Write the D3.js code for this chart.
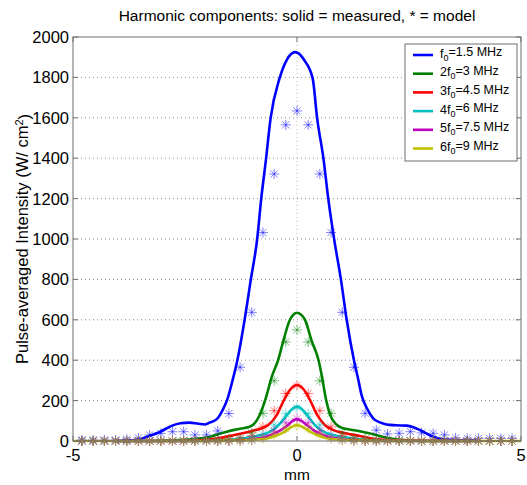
<!DOCTYPE html>
<html lang="en">
<head>
<meta charset="UTF-8">
<script src="https://d3js.org/d3.v7.min.js"></script>
<style>
  body { margin: 0; background: #fff; }
  text { font-family: "Liberation Sans", Arial, sans-serif; fill: #000; }
</style>
</head>
<body>
<svg id="chart" width="527" height="485"></svg>
<script>
// ---- data ----
const harmonics = ["f0=1.5 MHz", "2f0=3 MHz", "3f0=4.5 MHz", "4f0=6 MHz", "5f0=7.5 MHz", "6f0=9 MHz"];
const legendPre = ["", "2", "3", "4", "5", "6"];
const legendPost = ["=1.5 MHz", "=3 MHz", "=4.5 MHz", "=6 MHz", "=7.5 MHz", "=9 MHz"];
const colors = ["#0000ff", "#008000", "#ff0000", "#00bfbf", "#bf00bf", "#bfbf00"];

const yTicks = [0, 200, 400, 600, 800, 1000, 1200, 1400, 1600, 1800, 2000];
const xTicks = [-5, 0, 5];

// measured (solid) curves
const measX1 = [-3.85, -3.6, -3.3, -3.05, -2.8, -2.6, -2.4, -2.2, -2.05, -1.94, -1.79, -1.64, -1.55, -1.45, -1.33, -1.17, -1.03, -0.89, -0.8, -0.69, -0.59, -0.39, -0.23, -0.04, 0.16, 0.35, 0.45, 0.59, 0.7, 0.83, 0.98, 1.11, 1.27, 1.37, 1.44, 1.56, 1.7, 1.85, 2.0, 2.2, 2.45, 2.6, 2.75, 3.04, 3.27, 3.5, 4.0];
const measY1 = [0, 5, 25, 46, 75, 88, 91, 85, 82, 92, 108, 162, 210, 290, 401, 599, 800, 998, 1196, 1399, 1597, 1795, 1886, 1925, 1886, 1795, 1597, 1399, 1196, 998, 800, 599, 401, 302, 228, 162, 112, 92, 82, 78, 76, 68, 54, 21, 8, 5, 3];
const measX2 = [-4.0, -3.5, -2.8, -2.3, -1.94, -1.75, -1.57, -1.4, -1.2, -1.1, -0.98, -0.84, -0.7, -0.56, -0.42, -0.3, -0.16, 0.0, 0.18, 0.32, 0.48, 0.55, 0.65, 0.74, 0.89, 1.03, 1.2, 1.4, 1.7, 2.0, 2.3, 3.0, 4.0];
const measY2 = [0, 0, 3, 10, 21, 35, 46, 55, 63, 68, 80, 125, 210, 320, 401, 500, 599, 635, 599, 500, 401, 327, 203, 129, 79, 63, 56, 48, 33, 16, 6, 0, 0];
const measX3 = [-4.0, -2.6, -2.2, -1.8, -1.4, -1.0, -0.8, -0.64, -0.45, -0.29, -0.15, 0.0, 0.15, 0.29, 0.45, 0.62, 0.81, 1.0, 1.4, 1.8, 2.2, 4.0];
const measY3 = [0, 0, 3, 12, 30, 50, 62, 79, 129, 203, 255, 277, 255, 203, 129, 79, 54, 42, 25, 8, 2, 0];
const measX4 = [-4.0, -2.0, -1.5, -1.0, -0.6, -0.41, -0.22, -0.1, 0.0, 0.1, 0.22, 0.4, 0.59, 1.0, 1.5, 2.0, 4.0];
const measY4 = [0, 0, 5, 21, 46, 79, 129, 160, 170, 160, 129, 79, 46, 21, 5, 0, 0];
const measX5 = [-4.0, -1.8, -1.2, -0.7, -0.42, -0.2, -0.1, 0.0, 0.1, 0.22, 0.42, 0.7, 1.2, 1.8, 4.0];
const measY5 = [0, 0, 5, 21, 46, 79, 100, 107, 100, 79, 46, 21, 5, 0, 0];
const measX6 = [-5.0, -2.0, -1.4, -0.9, -0.53, -0.27, -0.12, 0.0, 0.12, 0.29, 0.55, 0.9, 1.4, 2.0, 5.0];
const measY6 = [0, 0, 2, 7, 21, 46, 70, 79, 70, 46, 21, 7, 2, 0, 0];

// model (*) samples
const starX = [-4.8, -4.55, -4.3, -4.05, -3.8, -3.54, -3.29, -3.04, -2.78, -2.53, -2.28, -2.02, -1.77, -1.52, -1.27, -1.01, -0.76, -0.51, -0.25, 0, 0.25, 0.51, 0.76, 1.01, 1.27, 1.52, 1.77, 2.02, 2.28, 2.53, 2.78, 3.04, 3.29, 3.54, 3.8, 4.05, 4.3, 4.55, 4.8];
const modelY1 = [5, 5, 5, 5, 8, 15, 30, 38, 46, 46, 30, 30, 50, 136, 365, 637, 1032, 1322, 1565, 1634, 1565, 1322, 1032, 637, 365, 137, 54, 35, 38, 46, 40, 38, 30, 15, 13, 13, 13, 13, 13];
const modelY2 = [0, 0, 0, 0, 0, 0, 0, 0, 0, 2, 3, 4, 5, 10, 15, 40, 137, 298, 490, 550, 490, 298, 137, 40, 15, 10, 5, 4, 3, 2, 0, 0, 0, 0, 0, 0, 0, 0, 0];
const modelY3 = [0, 0, 0, 0, 0, 0, 0, 0, 0, 0, 0, 0, 1, 3, 8, 25, 70, 150, 235, 275, 235, 150, 70, 25, 8, 3, 1, 0, 0, 0, 0, 0, 0, 0, 0, 0, 0, 0, 0];
const modelY4 = [0, 0, 0, 0, 0, 0, 0, 0, 0, 0, 0, 0, 0, 1, 3, 10, 32, 80, 135, 165, 135, 80, 32, 10, 3, 1, 0, 0, 0, 0, 0, 0, 0, 0, 0, 0, 0, 0, 0];
const modelY5 = [0, 0, 0, 0, 0, 0, 0, 0, 0, 0, 0, 0, 0, 0, 1, 5, 18, 50, 90, 110, 90, 50, 18, 5, 1, 0, 0, 0, 0, 0, 0, 0, 0, 0, 0, 0, 0, 0, 0];
const modelY6 = [0, 0, 0, 0, 0, 0, 0, 0, 0, 0, 0, 0, 0, 0, 0, 3, 10, 30, 60, 75, 60, 30, 10, 3, 0, 0, 0, 0, 0, 0, 0, 0, 0, 0, 0, 0, 0, 0, 0];

const measured = [[measX1, measY1], [measX2, measY2], [measX3, measY3], [measX4, measY4], [measX5, measY5], [measX6, measY6]];
const models = [modelY1, modelY2, modelY3, modelY4, modelY5, modelY6];

// ---- layout ----
const svg = d3.select("svg#chart");
const margin = { top: 37, right: 6, bottom: 44, left: 73 };
const width = 527 - margin.left - margin.right;
const height = 485 - margin.top - margin.bottom;

const x = d3.scaleLinear().domain([-5, 5]).range([0, width]);
const y = d3.scaleLinear().domain([0, 2000]).range([height, 0]);

const plot = svg.append("g").attr("transform", `translate(${margin.left},${margin.top})`);

// dotted grid
plot.append("g").selectAll("line").data(yTicks.slice(1, -1)).join("line")
  .attr("x1", 0).attr("x2", width)
  .attr("y1", d => y(d)).attr("y2", d => y(d))
  .attr("stroke", "#8c8c8c").attr("stroke-width", 1).attr("stroke-dasharray", "1,3");
plot.append("line")
  .attr("x1", x(0)).attr("x2", x(0)).attr("y1", 0).attr("y2", height)
  .attr("stroke", "#bdbdbd").attr("stroke-width", 1).attr("stroke-dasharray", "1,3");

// measured lines
const line = d3.line().x(d => x(d[0])).y(d => y(d[1])).curve(d3.curveMonotoneX);
measured.forEach((m, i) => {
  const pts = m[0].map((v, j) => [v, m[1][j]]);
  plot.append("path").datum(pts)
    .attr("d", line)
    .attr("fill", "none")
    .attr("stroke", colors[i])
    .attr("stroke-width", 2.6)
    .attr("stroke-linejoin", "round");
});

// model stars
const s = 5, sd = 3.6;
const starPath = `M0,${-s}V${s}M${-s},0H${s}M${-sd},${-sd}L${sd},${sd}M${-sd},${sd}L${sd},${-sd}`;
models.forEach((m, i) => {
  plot.append("g").selectAll("path").data(starX.map((v, j) => [v, m[j]])).join("path")
    .attr("transform", d => `translate(${x(d[0])},${y(d[1])})`)
    .attr("d", starPath)
    .attr("fill", "none")
    .attr("stroke", colors[i])
    .attr("stroke-width", 1)
    .attr("opacity", 0.5);
});

// axes box and ticks (inward, MATLAB style)
const axisColor = "#6e6e6e";
plot.append("rect").attr("width", width).attr("height", height)
  .attr("fill", "none").attr("stroke", axisColor).attr("stroke-width", 1);
yTicks.forEach(t => {
  plot.append("line").attr("x1", 0).attr("x2", 5).attr("y1", y(t)).attr("y2", y(t)).attr("stroke", axisColor);
  plot.append("line").attr("x1", width - 5).attr("x2", width).attr("y1", y(t)).attr("y2", y(t)).attr("stroke", axisColor);
  plot.append("text").attr("x", -4).attr("y", y(t)).attr("dy", "0.36em")
    .attr("text-anchor", "end").style("font-size", "16.5px").text(t);
});
xTicks.forEach(t => {
  plot.append("line").attr("x1", x(t)).attr("x2", x(t)).attr("y1", height).attr("y2", height - 5).attr("stroke", axisColor);
  plot.append("line").attr("x1", x(t)).attr("x2", x(t)).attr("y1", 0).attr("y2", 5).attr("stroke", axisColor);
  plot.append("text").attr("x", x(t)).attr("y", height + 20)
    .attr("text-anchor", "middle").style("font-size", "16.5px").text(t);
});

// labels
svg.append("text").attr("x", margin.left + x(0)).attr("y", 21)
  .attr("text-anchor", "middle").style("font-size", "15.5px")
  .text("Harmonic components: solid = measured, * = model");
svg.append("text").attr("x", margin.left + x(0)).attr("y", 480)
  .attr("text-anchor", "middle").style("font-size", "15.5px").text("mm");
const yl = svg.append("text")
  .attr("transform", `translate(28,${margin.top + height / 2}) rotate(-90)`)
  .attr("text-anchor", "middle").style("font-size", "16.5px");
yl.append("tspan").text("Pulse-averaged Intensity (W/ cm");
yl.append("tspan").attr("dy", "-0.45em").style("font-size", "11px").text("2");
yl.append("tspan").attr("dy", "0.45em").text(")");

// legend
const legend = svg.append("g").attr("transform", "translate(405,44)");
legend.append("rect").attr("width", 112).attr("height", 117)
  .attr("fill", "#fff").attr("stroke", axisColor);
harmonics.forEach((h, i) => {
  const ry = 11 + i * 18.7;
  legend.append("line").attr("x1", 8).attr("x2", 28).attr("y1", ry).attr("y2", ry)
    .attr("stroke", colors[i]).attr("stroke-width", 2.6);
  const t = legend.append("text").attr("x", 35).attr("y", ry).attr("dy", "0.2em")
    .style("font-size", "12.5px");
  t.append("tspan").text(legendPre[i] + "f");
  t.append("tspan").attr("dy", "0.35em").style("font-size", "9px").text("0");
  t.append("tspan").attr("dy", "-0.35em").text(legendPost[i]);
});
</script>
</body>
</html>
